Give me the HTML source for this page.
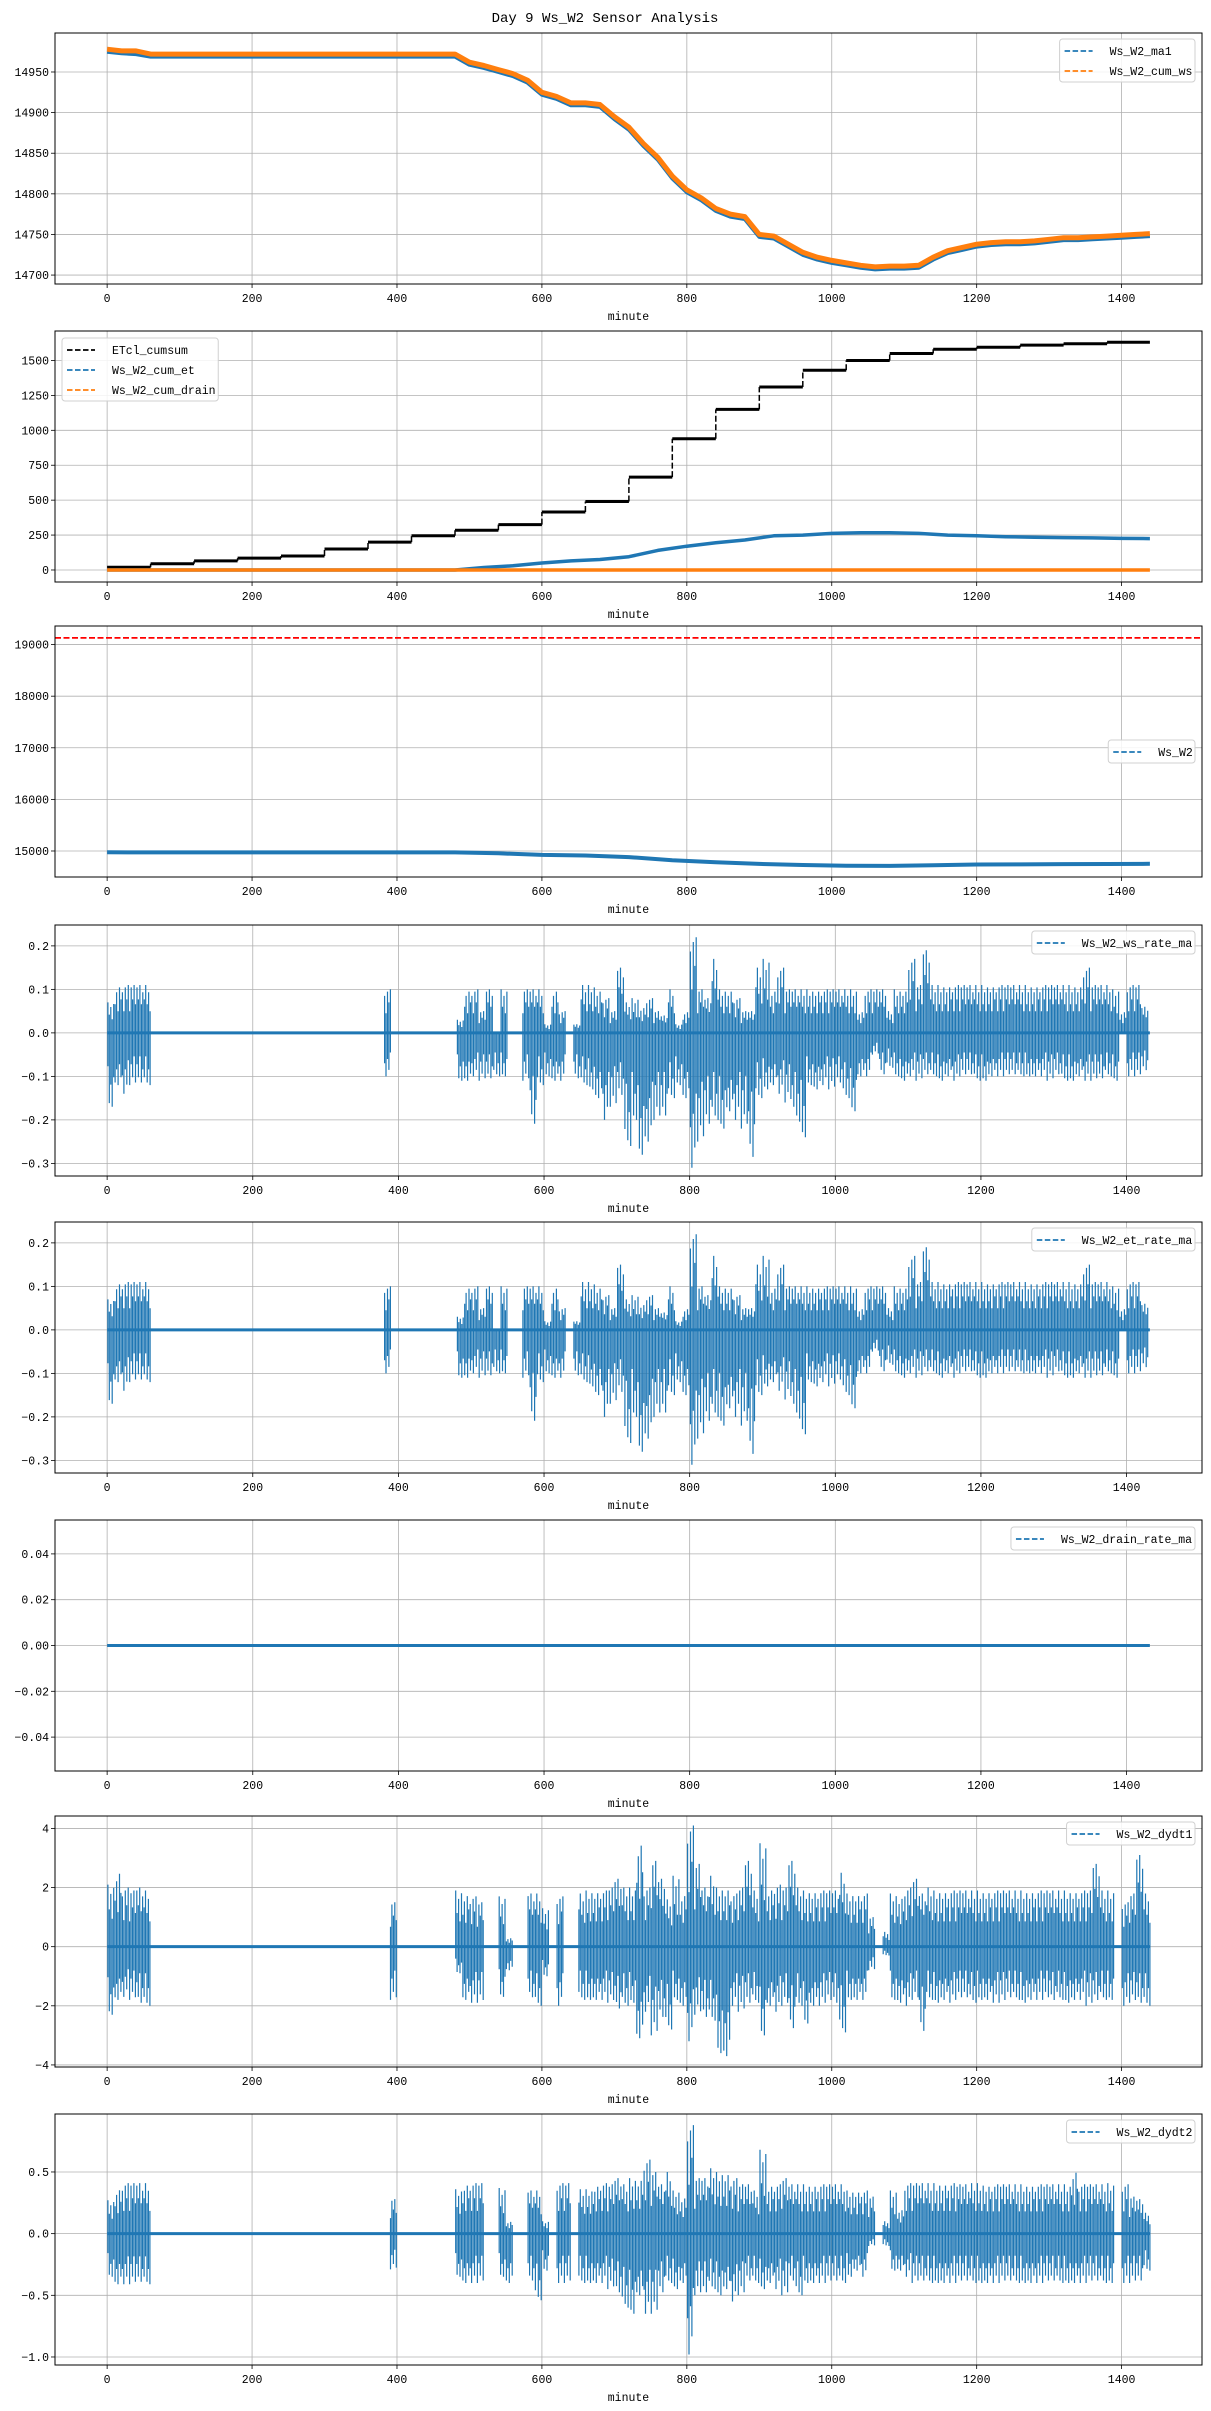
<!DOCTYPE html>
<html><head><meta charset="utf-8">
<style>
html,body{margin:0;padding:0;background:#fff;}
svg{display:block;}
text{font-family:"Liberation Mono","DejaVu Sans Mono",monospace;fill:#000;}
</style></head>
<body>
<svg id="fig" width="1211" height="2411" viewBox="0 0 1211 2411" xmlns="http://www.w3.org/2000/svg">
<text x="605" y="22" font-size="14" text-anchor="middle">Day 9 Ws_W2 Sensor Analysis</text>
</svg>
<script>
// ---------- data ----------
const minutes20 = [0,20,40,60,80,100,120,140,160,180,200,220,240,260,280,300,320,340,360,380,400,420,440,460,480,500,520,540,560,580,600,620,640,660,680,700,720,740,760,780,800,820,840,860,880,900,920,940,960,980,1000,1020,1040,1060,1080,1100,1120,1140,1160,1180,1200,1220,1240,1260,1280,1300,1320,1340,1360,1380,1400,1420,1439];
const cumWs = [14978,14976,14976,14972,14972,14972,14972,14972,14972,14972,14972,14972,14972,14972,14972,14972,14972,14972,14972,14972,14972,14972,14972,14972,14972,14962,14958,14953,14948,14940,14925,14920,14912,14912,14910,14895,14882,14862,14845,14822,14805,14795,14782,14775,14772,14750,14748,14738,14728,14722,14718,14715,14712,14710,14711,14711,14712,14722,14730,14734,14738,14740,14741,14741,14742,14744,14746,14746,14747,14748,14749,14750,14751];
const ma1 = [14975,14973,14972,14969,14969,14969,14969,14969,14969,14969,14969,14969,14969,14969,14969,14969,14969,14969,14969,14969,14969,14969,14969,14969,14969,14959,14955,14950,14945,14937,14922,14917,14909,14909,14907,14892,14879,14859,14842,14819,14802,14792,14779,14772,14769,14747,14745,14735,14725,14719,14715,14712,14709,14707,14708,14708,14709,14719,14727,14731,14735,14737,14738,14738,14739,14741,14743,14743,14744,14745,14746,14747,14748];

const hours = [0,60,120,180,240,300,360,420,480,540,600,660,720,780,840,900,960,1020,1080,1140,1200,1260,1320,1380];
const etclCumsum = [20,45,65,85,100,150,200,245,285,325,415,490,665,940,1150,1310,1430,1500,1550,1580,1595,1610,1620,1630];
const minutes40 = [0,40,80,120,160,200,240,280,320,360,400,440,480,520,560,600,640,680,720,760,800,840,880,920,960,1000,1040,1080,1120,1160,1200,1240,1280,1320,1360,1400,1439];
const cumEt = [0,0,0,0,0,0,0,0,0,0,0,0,0,18,30,50,65,75,95,140,170,195,215,245,250,262,266,266,262,250,245,238,235,232,230,226,225];
const cumDrain = [0,0,0,0,0,0,0,0,0,0,0,0,0,0,0,0,0,0,0,0,0,0,0,0,0,0,0,0,0,0,0,0,0,0,0,0,0];

const minutes60 = [0,60,120,180,240,300,360,420,480,540,600,660,720,780,840,900,960,1020,1080,1140,1200,1260,1320,1380,1439];
const wsRaw = [14975,14972,14972,14972,14972,14972,14972,14972,14972,14955,14925,14912,14882,14822,14782,14750,14728,14715,14711,14722,14738,14741,14746,14748,14751];
const wsLimit = [19130];

// 10-minute bin envelopes (144 bins)
const rateHi = [.07,.11,.11,.11,.11,.11,
0,0,0,0,0,0,0,0,0,0,0,0,0,0,0,0,0,0,0,0,0,0,0,0,0,0,0,0,0,0,0,0,
.1,
0,0,0,0,0,0,0,0,0,
.03,.1,.1,.05,.1,
0,.1,0,0,
.1,.1,.1,.02,.1,.05,0,
.02,.11,.11,.1,.08,.05,.15,.07,.08,.06,.08,.05,.04,.1,.02,.05,
.22,.1,.08,.17,.1,.1,.08,.05,.05,.15,.17,.1,.15,.1,.1,.1,.1,.1,.1,.1,
.1,.1,.1,.05,.1,.1,.1,.05,.1,.1,
.17,.11,.19,.11,.11,.11,.11,.11,.11,.11,.11,.11,.11,.11,.11,.11,.11,.11,.11,.11,.11,.11,.11,.11,.15,.11,.11,.11,.1,.05,.11,.11,.06,0];
const rateLo = [-.17,-.12,-.14,-.12,-.12,-.12,
0,0,0,0,0,0,0,0,0,0,0,0,0,0,0,0,0,0,0,0,0,0,0,0,0,0,0,0,0,0,0,0,
-.1,
0,0,0,0,0,0,0,0,0,
-.11,-.11,-.1,-.11,-.11,
-.1,-.1,0,0,
-.11,-.22,-.12,-.1,-.11,-.11,0,
-.11,-.12,-.13,-.15,-.2,-.17,-.15,-.26,-.2,-.28,-.25,-.2,-.2,-.15,-.12,-.15,
-.31,-.25,-.22,-.2,-.22,-.18,-.2,-.22,-.3,-.15,-.13,-.12,-.14,-.16,-.2,-.24,-.12,-.13,-.12,-.13,
-.12,-.15,-.18,-.1,-.1,-.05,-.1,-.08,-.1,-.11,
-.1,-.11,-.1,-.1,-.11,-.1,-.11,-.1,-.1,-.11,-.11,-.1,-.1,-.1,-.1,-.1,-.1,-.1,-.1,-.11,-.1,-.11,-.11,-.1,-.11,-.11,-.11,-.1,-.11,0,-.1,-.1,-.09,0];
const drainHi = [0];
const drainLo = [0];

const d1Hi = [2.1,2.6,2.0,1.9,2.0,1.9,
0,0,0,0,0,0,0,0,0,0,0,0,0,0,0,0,0,0,0,0,0,0,0,0,0,0,0,0,0,0,0,0,
0,1.5,
0,0,0,0,0,0,0,0,
1.9,1.8,1.7,1.5,0,
0,1.7,0.3,0,
0,1.8,1.8,1.3,0,1.7,0,0,
1.8,1.9,1.9,1.9,2.0,2.3,2.0,2.0,3.6,2.0,2.9,2.3,1.6,2.4,1.8,
4.1,2.8,2.0,2.4,2.0,2.0,1.8,2.0,2.9,1.9,3.5,2.0,2.1,2.0,2.9,2.0,1.9,1.9,1.9,1.9,
1.9,2.5,1.8,1.8,1.8,1.0,0,0.5,1.8,1.7,
2.0,2.3,1.8,2.0,1.9,1.9,1.9,1.9,1.9,1.9,1.9,1.9,1.9,1.9,1.9,1.9,1.9,1.9,1.9,1.9,1.9,1.9,1.9,1.9,1.9,1.9,2.8,1.9,1.9,0,1.5,1.8,3.1,1.8];
const d1Lo = [-2.3,-1.8,-1.7,-1.8,-2.0,-2.0,
0,0,0,0,0,0,0,0,0,0,0,0,0,0,0,0,0,0,0,0,0,0,0,0,0,0,0,0,0,0,0,0,
0,-1.8,
0,0,0,0,0,0,0,0,
-0.9,-1.8,-1.9,-1.9,0,
0,-1.7,-0.8,0,
0,-1.8,-2.0,-1.0,0,-2.0,0,0,
-1.8,-1.8,-1.8,-1.8,-1.9,-2.2,-2.0,-1.9,-3.1,-2.2,-3.0,-2.5,-2.8,-1.8,-2.0,
-3.2,-2.3,-2.5,-2.5,-3.6,-3.7,-2.0,-2.2,-2.0,-1.9,-3.0,-2.0,-2.2,-2.0,-2.9,-2.0,-2.6,-2.0,-2.0,-1.9,
-2.0,-2.9,-1.8,-1.8,-1.8,-0.8,0,-0.3,-1.8,-1.9,
-2.0,-1.8,-3.0,-1.8,-1.9,-1.8,-1.9,-1.8,-1.8,-1.9,-1.8,-1.8,-1.9,-1.9,-1.8,-1.8,-1.9,-1.8,-1.8,-1.8,-1.9,-1.8,-1.9,-1.8,-1.8,-2.0,-1.9,-1.8,-1.8,0,-2.0,-1.9,-2.0,-2.0];

const d2Hi = [.27,.37,.41,.41,.41,.41,
0,0,0,0,0,0,0,0,0,0,0,0,0,0,0,0,0,0,0,0,0,0,0,0,0,0,0,0,0,0,0,0,
0,.28,
0,0,0,0,0,0,0,0,
.36,.41,.41,.41,0,
0,.37,.1,0,
0,.35,.35,.1,0,.41,.41,0,
.36,.36,.4,.41,.4,.45,.4,.45,.45,.6,.5,.4,.5,.35,.3,
.88,.45,.45,.53,.5,.5,.45,.4,.4,.35,.68,.4,.4,.45,.4,.4,.4,.4,.4,.4,
.4,.4,.35,.35,.35,.3,0,.1,.35,.2,
.41,.41,.41,.41,.41,.41,.41,.4,.4,.41,.41,.4,.4,.4,.4,.4,.4,.4,.4,.4,.4,.4,.4,.52,.4,.4,.4,.4,.41,0,.4,.3,.28,.17];
const d2Lo = [-.35,-.41,-.41,-.41,-.41,-.41,
0,0,0,0,0,0,0,0,0,0,0,0,0,0,0,0,0,0,0,0,0,0,0,0,0,0,0,0,0,0,0,0,
0,-.29,
0,0,0,0,0,0,0,0,
-.35,-.4,-.4,-.4,0,
0,-.35,-.4,0,
0,-.4,-.54,-.3,0,-.4,-.4,0,
-.4,-.4,-.4,-.4,-.45,-.5,-.6,-.65,-.5,-.65,-.65,-.5,-.4,-.45,-.4,
-.98,-.5,-.5,-.45,-.5,-.45,-.55,-.5,-.4,-.4,-.45,-.4,-.45,-.5,-.4,-.5,-.4,-.4,-.4,-.4,
-.4,-.4,-.35,-.3,-.35,-.1,0,-.1,-.3,-.3,
-.35,-.4,-.4,-.4,-.4,-.4,-.4,-.4,-.4,-.4,-.4,-.4,-.4,-.4,-.4,-.4,-.4,-.4,-.4,-.4,-.4,-.4,-.4,-.4,-.4,-.4,-.4,-.4,-.4,0,-.4,-.4,-.4,-.3];

const xTicks = [0,200,400,600,800,1000,1200,1400];
const yTicks1 = [14700,14750,14800,14850,14900,14950];
const yTicks2 = [0,250,500,750,1000,1250,1500];
const yTicks3 = [15000,16000,17000,18000,19000];
const yTicksRate = [-0.3,-0.2,-0.1,0,0.1,0.2];
const yTickLabelsRate = ["\u22120.3","\u22120.2","\u22120.1","0.0","0.1","0.2"];
const yTicksDrain = [-0.04,-0.02,0,0.02,0.04];
const yTickLabelsDrain = ["\u22120.04","\u22120.02","0.00","0.02","0.04"];
const yTicksD1 = [-4,-2,0,2,4];
const yTickLabelsD1 = ["\u22124","\u22122","0","2","4"];
const yTicksD2 = [-1,-0.5,0,0.5];
const yTickLabelsD2 = ["\u22121.0","\u22120.5","0.0","0.5"];

// ---------- drawing ----------
const NS = "http://www.w3.org/2000/svg";
const fig = document.getElementById("fig");
const L = 55, R = 1202, H = 251;
const tops = [33,331,626,925,1222,1520,1816,2114];
const BLUE = "#1f77b4", ORANGE = "#ff7f0e";

function mk(tag, attrs, parent) {
  const e = document.createElementNS(NS, tag);
  for (const k in attrs) e.setAttribute(k, attrs[k]);
  (parent || fig).appendChild(e);
  return e;
}

function makeAxes(idx, name, xmax, ymin, ymax, yt, ytl) {
  const top = tops[idx];
  const x0 = -0.05 * xmax, x1 = xmax * 1.05;
  const g = mk("g", {});
  
  
  const sx = v => L + (v - x0) / (x1 - x0) * (R - L);
  const sy = v => top + H - (v - ymin) / (ymax - ymin) * H;
  xTicks.forEach(t => {
    const gl = mk("line", {x1: sx(t), x2: sx(t), y1: top, y2: top + H, stroke: "#b0b0b0", "stroke-width": 0.8}, g);
    
    
    const tk = mk("line", {x1: sx(t), x2: sx(t), y1: top + H, y2: top + H + 4, stroke: "#000", "stroke-width": 0.8}, g);
    
    
    const tl = mk("text", {x: sx(t), y: top + H + 18, "font-size": 11.5, "text-anchor": "middle"}, g);
    
    
    tl.textContent = String(t);
  });
  yt.forEach((t, i) => {
    const gl = mk("line", {x1: L, x2: R, y1: sy(t), y2: sy(t), stroke: "#b0b0b0", "stroke-width": 0.8}, g);
    
    
    const tk = mk("line", {x1: L - 4, x2: L, y1: sy(t), y2: sy(t), stroke: "#000", "stroke-width": 0.8}, g);
    
    
    const tl = mk("text", {x: L - 6, y: sy(t) + 4, "font-size": 11.5, "text-anchor": "end"}, g);
    
    
    tl.textContent = ytl ? ytl[i] : String(t);
  });
  const xl = mk("text", {x: (L + R) / 2, y: top + H + 36, "font-size": 11.5, "text-anchor": "middle"}, g);
  
  
  xl.textContent = "minute";
  const clip = mk("clipPath", {id: "clip" + idx}, g);
  mk("rect", {x: L, y: top, width: R - L, height: H}, clip);
  const plot = mk("g", {"clip-path": "url(#clip" + idx + ")"}, g);
  
  
  return {g, plot, sx, sy, top};
}

function frame(ax, name) {
  const f = mk("rect", {x: L, y: ax.top, width: R - L, height: H, fill: "none", stroke: "#000", "stroke-width": 1}, ax.g);
  
  
}

function linePath(ax, xs, ys, color, w, name, dash) {
  let d = "";
  xs.forEach((x, i) => { d += (i ? "L" : "M") + ax.sx(x).toFixed(1) + "," + ax.sy(ys[i]).toFixed(1); });
  const p = mk("path", {d: d, fill: "none", stroke: color, "stroke-width": w, "stroke-linejoin": "round"}, ax.plot);
  if (dash) p.setAttribute("stroke-dasharray", dash);
  
  
  return p;
}

function envelope(ax, hi, lo, xmax, name) {
  const base = mk("line", {x1: ax.sx(0), x2: ax.sx(xmax), y1: ax.sy(0), y2: ax.sy(0), stroke: BLUE, "stroke-width": 3}, ax.plot);
  
  
  const fr = [1, 0.6, 0.85, 0.45, 0.95, 0.7];
  let d = "";
  hi.forEach((h, b) => {
    const l = lo[b];
    if (h === 0 && l === 0) return;
    for (let k = 0; k < 5; k++) {
      const m = Math.min(b * 10 + k * 2 + 1, xmax);
      const x = ax.sx(m).toFixed(1);
      const top = h * fr[(k + b) % 6];
      const bot = l * fr[(k + b + 3) % 6];
      d += "M" + x + "," + ax.sy(top).toFixed(1) + "L" + x + "," + ax.sy(bot).toFixed(1);
    }
  });
  const p = mk("path", {d: d, fill: "none", stroke: BLUE, "stroke-width": 1.2}, ax.plot);
  
  
}

function legend(ax, x, y, entries) {
  const maxLen = Math.max(...entries.map(e => e.label.length));
  const w = 52 + maxLen * 6.95;
  const lx = x === null ? R - 7 - w : x;
  const lg = mk("g", {}, ax.g);
  
  
  mk("rect", {x: lx, y: y, width: w, height: entries.length * 20 + 3, rx: 3, fill: "#fff", "fill-opacity": 0.85, stroke: "#d0d0d0", "stroke-width": 1}, lg);
  entries.forEach((e, i) => {
    const cy = y + 12 + i * 20;
    const it = mk("g", {}, lg);
    
    
    mk("line", {x1: lx + 5, x2: lx + 33, y1: cy, y2: cy, stroke: e.color, "stroke-width": 1.8, "stroke-dasharray": "5.5,2.5"}, it);
    const t = mk("text", {x: lx + 50, y: cy + 4, "font-size": 11.5}, it);
    t.textContent = e.label;
  });
}

// Panel 1
let ax = makeAxes(0, "ws-ma1-cumws", 1439, 14689, 14998, yTicks1);
linePath(ax, minutes20, ma1, BLUE, 4, "line-ws-w2-ma1");
linePath(ax, minutes20, cumWs, ORANGE, 5, "line-ws-w2-cum-ws");
frame(ax, "panel1");
legend(ax, null, 39, [{label: "Ws_W2_ma1", color: BLUE}, {label: "Ws_W2_cum_ws", color: ORANGE}]);

// Panel 2
ax = makeAxes(1, "cumulative", 1439, -86, 1711, yTicks2);
{
  let d = "";
  hours.forEach((h, i) => {
    const xe = i + 1 < hours.length ? hours[i + 1] : 1439;
    d += "M" + ax.sx(h).toFixed(1) + "," + ax.sy(etclCumsum[i]).toFixed(1) + "L" + ax.sx(xe).toFixed(1) + "," + ax.sy(etclCumsum[i]).toFixed(1);
  });
  const p = mk("path", {d: d, fill: "none", stroke: "#000", "stroke-width": 3}, ax.plot);
  
  
  let dv = "";
  hours.forEach((h, i) => {
    if (i === 0) return;
    dv += "M" + ax.sx(h).toFixed(1) + "," + ax.sy(etclCumsum[i - 1]).toFixed(1) + "L" + ax.sx(h).toFixed(1) + "," + ax.sy(etclCumsum[i]).toFixed(1);
  });
  const pv = mk("path", {d: dv, fill: "none", stroke: "#000", "stroke-width": 1.5, "stroke-dasharray": "6,2.5"}, ax.plot);
  
  
}
linePath(ax, minutes40, cumEt, BLUE, 3.5, "line-ws-w2-cum-et");
linePath(ax, minutes40, cumDrain, ORANGE, 3.5, "line-ws-w2-cum-drain");
frame(ax, "panel2");
legend(ax, 62, 338, [{label: "ETcl_cumsum", color: "#000"}, {label: "Ws_W2_cum_et", color: BLUE}, {label: "Ws_W2_cum_drain", color: ORANGE}]);

// Panel 3
ax = makeAxes(2, "ws-w2", 1439, 14496, 19360, yTicks3);
linePath(ax, minutes60, wsRaw, BLUE, 4, "line-ws-w2");
{
  const rl = mk("line", {x1: L, x2: R, y1: ax.sy(wsLimit[0]), y2: ax.sy(wsLimit[0]), stroke: "red", "stroke-width": 1.8, "stroke-dasharray": "6,2.5"}, ax.plot);
  
  
}
frame(ax, "panel3");
legend(ax, null, 740, [{label: "Ws_W2", color: BLUE}]);

// Panel 4
ax = makeAxes(3, "ws-rate-ma", 1432, -0.329, 0.248, yTicksRate, yTickLabelsRate);
envelope(ax, rateHi, rateLo, 1432, "ws-w2-ws-rate-ma");
frame(ax, "panel4");
legend(ax, null, 931, [{label: "Ws_W2_ws_rate_ma", color: BLUE}]);

// Panel 5
ax = makeAxes(4, "et-rate-ma", 1432, -0.329, 0.248, yTicksRate, yTickLabelsRate);
envelope(ax, rateHi, rateLo, 1432, "ws-w2-et-rate-ma");
frame(ax, "panel5");
legend(ax, null, 1228, [{label: "Ws_W2_et_rate_ma", color: BLUE}]);

// Panel 6
ax = makeAxes(5, "drain-rate-ma", 1432, -0.0548, 0.0548, yTicksDrain, yTickLabelsDrain);
envelope(ax, drainHi, drainLo, 1432, "ws-w2-drain-rate-ma");
frame(ax, "panel6");
legend(ax, null, 1527, [{label: "Ws_W2_drain_rate_ma", color: BLUE}]);

// Panel 7
ax = makeAxes(6, "dydt1", 1439, -4.07, 4.42, yTicksD1, yTickLabelsD1);
envelope(ax, d1Hi, d1Lo, 1439, "ws-w2-dydt1");
frame(ax, "panel7");
legend(ax, null, 1822, [{label: "Ws_W2_dydt1", color: BLUE}]);

// Panel 8
ax = makeAxes(7, "dydt2", 1439, -1.065, 0.97, yTicksD2, yTickLabelsD2);
envelope(ax, d2Hi, d2Lo, 1439, "ws-w2-dydt2");
frame(ax, "panel8");
legend(ax, null, 2120, [{label: "Ws_W2_dydt2", color: BLUE}]);
</script>
</body></html>
